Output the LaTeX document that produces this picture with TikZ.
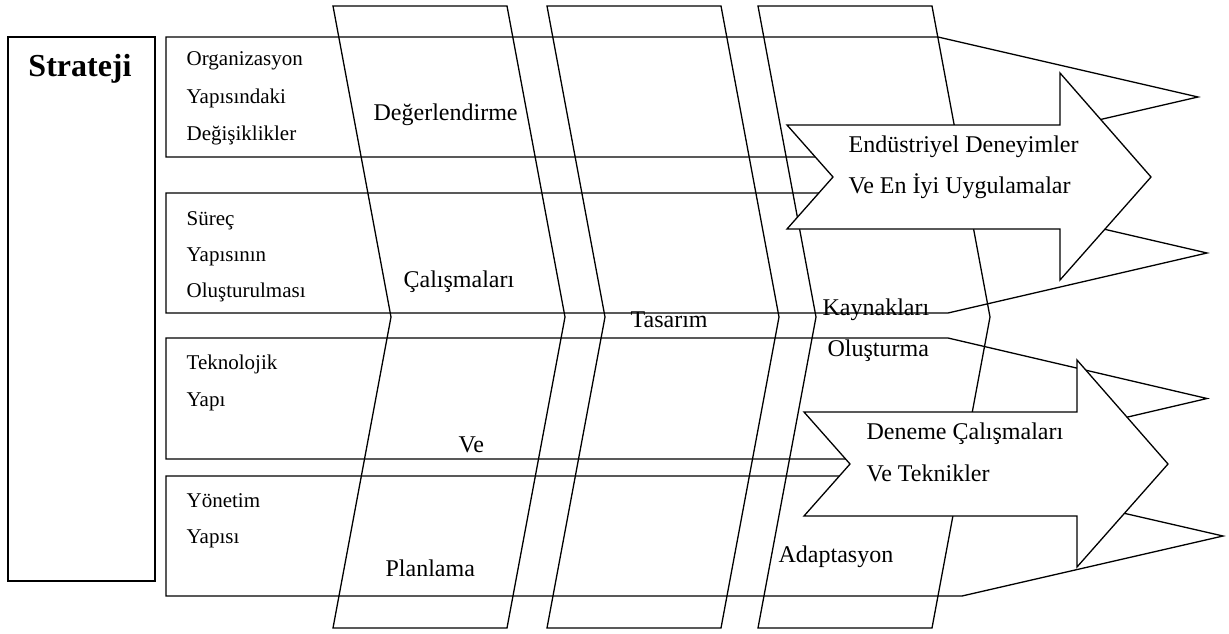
\documentclass[tikz,border=0pt]{standalone}
\usepackage{fontspec}
\setmainfont{Liberation Serif}
\usetikzlibrary{positioning}

\begin{document}
\begin{tikzpicture}[x=1pt, y=-1pt,
		line width=1.3pt,
		every node/.style={inner sep=0pt, anchor=base west},
		rowtext/.style={font=\fontsize{21}{25}\selectfont},
		stagetext/.style={font=\fontsize{24}{28}\selectfont},
		bigarrow/.style={draw, fill=white}]
	\useasboundingbox (0,0) rectangle (1229,634);

	% strategy column
	\draw (8,37) rectangle (155,581);
	\node[font=\fontsize{32}{36}\selectfont\bfseries, anchor=base] (strateji) at (80,77) {Strateji};

	% the four rows, each ending in a point
	\foreach \ya/\yb/\cx/\tx in {37/157/938/1198, 193/313/948/1207, 338/459/948/1207, 476/596/962/1223}
		\draw (166,\ya) -- (\cx,\ya) -- (\tx,{(\ya+\yb)/2}) -- (\cx,\yb) -- (166,\yb) -- cycle;

	% slanted stage bands
	\foreach \x in {333,547,758}
		\draw (\x,6) -- (\x+174,6) -- (\x+232,317) -- (\x+174,628) -- (\x,628) -- (\x+58,317) -- cycle;

	% row titles
	\foreach \t [count=\i] in {Organizasyon, Yapısındaki, Değişiklikler}
		\node[rowtext] (org-\i) at (186,{66+37*(\i-1)}) {\t};
	\foreach \t [count=\i] in {Süreç, Yapısının, Oluşturulması}
		\node[rowtext] (sur-\i) at (186,{225+36*(\i-1)}) {\t};
	\foreach \t [count=\i] in {Teknolojik, Yapı}
		\node[rowtext] (tek-\i) at (186,{369+37*(\i-1)}) {\t};
	\foreach \t [count=\i] in {Yönetim, Yapısı}
		\node[rowtext] (yon-\i) at (186,{507+36*(\i-1)}) {\t};

	% stage words
	\node[stagetext] (deg)  at (373,120) {Değerlendirme};
	\node[stagetext] (cal)  at (403,287) {Çalışmaları};
	\node[stagetext] (ve)   at (458,452) {Ve};
	\node[stagetext] (plan) at (385,576) {Planlama};
	\node[stagetext] (tas)  at (630,327) {Tasarım};
	\node[stagetext] (kay)  at (822,315) {Kaynakları};
	\node[stagetext] (olu)  at (827,356) {Oluşturma};
	\node[stagetext] (ada)  at (778,562) {Adaptasyon};

	% big arrows on top
	\foreach \dx/\dy in {0/0, 17/287}
		\draw[bigarrow, shift={(\dx,\dy)}] (787,125) -- (1060,125) -- (1060,73) -- (1151,177)
			-- (1060,280) -- (1060,229) -- (787,229) -- (833,177) -- cycle;

	\node[stagetext] (end-1) at (848,152) {Endüstriyel Deneyimler};
	\node[stagetext] (end-2) at (848,193) {Ve En İyi Uygulamalar};
	\node[stagetext] (den-1) at (866,439) {Deneme Çalışmaları};
	\node[stagetext] (den-2) at (866,481) {Ve Teknikler};
\end{tikzpicture}
\end{document}
